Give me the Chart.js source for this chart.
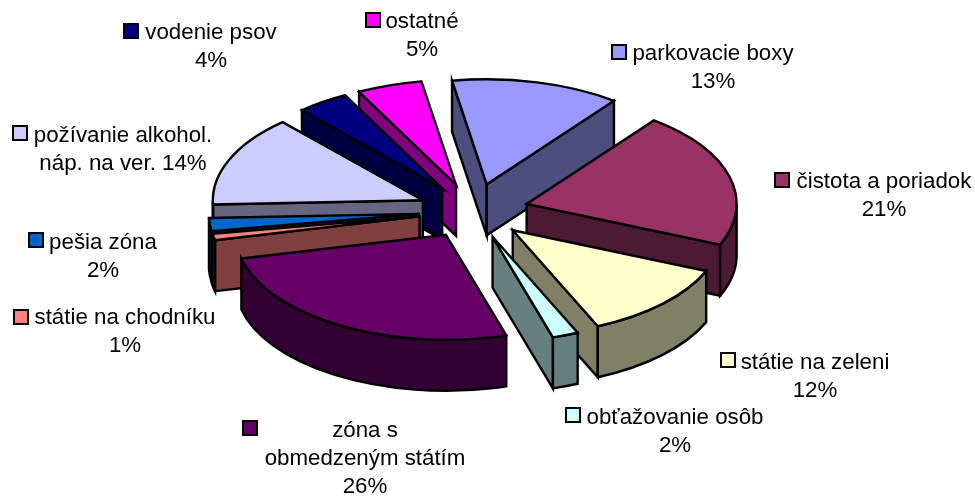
<!DOCTYPE html>
<html>
<head>
<meta charset="utf-8">
<style>
	html, body { margin: 0; padding: 0; background: #fff; }
	canvas { display: block; }
</style>
<script src="https://cdn.jsdelivr.net/npm/chart.js@4/dist/chart.umd.min.js"></script>
</head>
<body>
<canvas id="myChart" width="975" height="496"></canvas>
<script>
var categories = ['parkovacie boxy', 'čistota a poriadok', 'státie na zeleni', 'obťažovanie osôb', 'zóna s obmedzeným státím',
	'státie na chodníku', 'pešia zóna', 'požívanie alkohol. náp. na ver.', 'vodenie psov', 'ostatné'];
var values = [13, 21, 12, 2, 26, 1, 2, 14, 4, 5];
var topColors = ['#9999FF', '#993366', '#FFFFCC', '#CCFFFF', '#660066', '#FF8080', '#0066CC', '#CCCCFF', '#000080', '#FF00FF'];
var wallColors = ['#4D4D80', '#4D1A33', '#808066', '#668080', '#330033', '#804040', '#003366', '#666680', '#000040', '#800080'];

// text of each label, line by line
var labelLines = [
	['parkovacie boxy', '13%'],
	['čistota a poriadok', '21%'],
	['státie na zeleni', '12%'],
	['obťažovanie osôb', '2%'],
	['zóna s', 'obmedzeným státím', '26%'],
	['státie na chodníku', '1%'],
	['pešia zóna', '2%'],
	['požívanie alkohol.', 'náp. na ver. 14%'],
	['vodenie psov', '4%'],
	['ostatné', '5%']
];
// where each label goes: swatch left/top, centre x of the text, first baseline
var labelBox = [
	[612, 45, 713, 60],
	[775, 173, 884, 188],
	[721, 353, 815, 369],
	[566, 408, 675, 424],
	[243, 421, 365, 437],
	[14, 310, 125, 324],
	[29, 233, 103, 249],
	[13, 126, 123, 142],
	[124, 24, 211, 39],
	[366, 13, 422, 28]
];

var squash = 0.5;
var depth = 51;

function faceGeom(arc) {
	var mid = (arc.startAngle + arc.endAngle) / 2;
	var off = arc.options.offset;
	var x = arc.x + Math.cos(mid) * off;
	var y = arc.y + Math.sin(mid) * off * squash;
	return {
		x: x,
		y: y,
		r: arc.outerRadius,
		a0: arc.startAngle,
		a1: arc.endAngle
	};
}

function rim(g, a) {
	return { x: g.x + Math.cos(a) * g.r, y: g.y + Math.sin(a) * g.r * squash };
}

function paint(ctx, fill) {
	ctx.fillStyle = fill;
	ctx.fill();
	ctx.stroke();
}

function drawCut(ctx, g, a, fill) {
	var p = rim(g, a);
	ctx.beginPath();
	ctx.moveTo(g.x, g.y);
	ctx.lineTo(p.x, p.y);
	ctx.lineTo(p.x, p.y + depth);
	ctx.lineTo(g.x, g.y + depth);
	ctx.closePath();
	paint(ctx, fill);
}

function drawSlice(ctx, arc, i) {
	var g = faceGeom(arc);
	// walls facing the viewer
	if (Math.cos(g.a0) < 0) drawCut(ctx, g, g.a0, wallColors[i]);
	if (Math.cos(g.a1) > 0) drawCut(ctx, g, g.a1, wallColors[i]);
	var from = Math.max(g.a0, 0);
	var to = Math.min(g.a1, Math.PI);
	if (to > from) {
		ctx.beginPath();
		ctx.ellipse(g.x, g.y, g.r, g.r * squash, 0, from, to);
		ctx.ellipse(g.x, g.y + depth, g.r, g.r * squash, 0, to, from, true);
		ctx.closePath();
		paint(ctx, wallColors[i]);
	}
	// top face
	ctx.beginPath();
	ctx.moveTo(g.x, g.y);
	ctx.ellipse(g.x, g.y, g.r, g.r * squash, 0, g.a0, g.a1);
	ctx.closePath();
	paint(ctx, topColors[i]);
}

var pie3d = {
	id: 'pie3d',
	beforeDatasetsDraw: function(chart) {
		var ctx = chart.ctx;
		var arcs = chart.getDatasetMeta(0).data;
		var order = arcs.map(function(arc, i) {
			return { i: i, y: faceGeom(arc).y };
		});
		order.sort(function(a, b) { return a.y - b.y; });
		ctx.save();
		ctx.strokeStyle = '#000';
		ctx.lineWidth = 2.4;
		ctx.lineJoin = 'miter';
		order.forEach(function(o) {
			drawSlice(ctx, arcs[o.i], o.i);
		});
		ctx.restore();
		return false;
	},
	afterDraw: function(chart) {
		var ctx = chart.ctx;
		ctx.save();
		ctx.font = '22.3px "Liberation Sans"';
		ctx.textAlign = 'center';
		ctx.textBaseline = 'alphabetic';
		labelLines.forEach(function(lines, i) {
			var box = labelBox[i];
			ctx.fillStyle = topColors[i];
			ctx.strokeStyle = '#000';
			ctx.lineWidth = 2;
			ctx.fillRect(box[0], box[1], 14, 14);
			ctx.strokeRect(box[0], box[1], 14, 14);
			ctx.fillStyle = '#000';
			lines.forEach(function(line, n) {
				ctx.fillText(line, box[2], box[3] + n * 28);
			});
		});
		ctx.restore();
	}
};

var ctx = document.getElementById('myChart').getContext('2d');
var myChart = new Chart(ctx, {
	type: 'pie',
	data: {
		labels: categories,
		datasets: [{
			data: values,
			backgroundColor: topColors,
			borderColor: '#000',
			borderWidth: 2,
			offset: 55,
			radius: 210
		}]
	},
	options: {
		responsive: false,
		animation: false,
		rotation: -9.5,
		layout: { padding: { left: 0, right: 28, top: 0, bottom: 74 } },
		plugins: {
			legend: { display: false },
			tooltip: { enabled: false }
		}
	},
	plugins: [pie3d]
});
</script>
</body>
</html>
